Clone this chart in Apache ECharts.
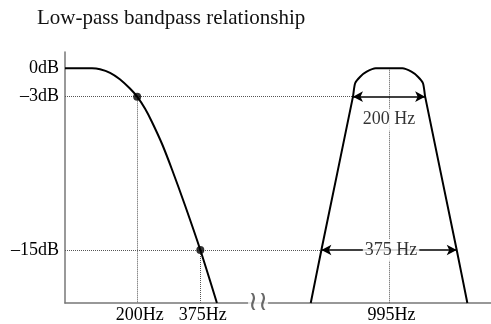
<!DOCTYPE html>
<html><head><meta charset="utf-8">
<script src="https://cdn.jsdelivr.net/npm/echarts@6/dist/echarts.min.js"></script>
<style>html,body{margin:0;padding:0;background:#fff}#c{width:491px;height:324px}</style>
</head><body><div id="c"></div>
<script>
const titleText = 'Low-pass bandpass relationship';
// low-pass response (frequency in Hz, level in schematic units)
const lowFreq  = [0, 75, 97, 125, 152, 180, 200, 222, 241, 269, 296, 332, 375, 421];
const lowLevel = [0, 0, -0.1, -0.48, -1.16, -2.14, -3, -4.28, -5.67, -8.0, -10.64, -14.42, -19.2, -24.8];
// bandpass response around 995 Hz
const bandFreq  = [778, 807.5, 895, 901, 915, 933, 958, 1032, 1057, 1075, 1089, 1095, 1182.5, 1212];
const bandLevel = [-24.8, -19.2, -3, -1.58, -0.89, -0.36, 0, 0, -0.36, -0.89, -1.58, -3, -19.2, -24.8];
const levelTicks  = [0, -3, -19.2];
const levelLabels = ['0dB', '–3dB', '–15dB'];
const freqTicks  = [200, 375, 995];
const freqLabels = ['200Hz', '375Hz', '995Hz'];
const markerFreq  = [200, 375];
const markerLevel = [-3, -19.2];
const centerFreq = 995;
const bandwidths = [200, 375];
const bandwidthLabels = ['200 Hz', '375 Hz'];
const axisBreak = [535, 632];
const freqMax = 1277.5;
const levelMin = -24.8, levelMax = 1.72;

const FONT = 'Liberation Serif';
const zip = (a, b) => a.map((v, i) => [v, b[i]]);
const dotted = { color: '#555', width: 1, type: [1, 1] };

const guideLines = [];
markerLevel.forEach((lv, i) => {
  guideLines.push([{ coord: [0, lv] }, { coord: [centerFreq - bandwidths[i] / 2, lv] }]);
  guideLines.push([{ coord: [markerFreq[i], lv] }, { coord: [markerFreq[i], levelMin] }]);
});
guideLines.push([{ coord: [centerFreq, 0] }, { coord: [centerFreq, levelMin] }]);

const arrows = markerLevel.map((lv, i) => [
  { coord: [centerFreq - bandwidths[i] / 2, lv] },
  { coord: [centerFreq + bandwidths[i] / 2, lv] }
]);

const chart = echarts.init(document.getElementById('c'), null, { renderer: 'canvas' });
chart.setOption({
  animation: false,
  backgroundColor: '#fff',
  title: {
    text: titleText, left: 37, top: 8, padding: 0,
    textStyle: { fontFamily: FONT, fontSize: 21, fontWeight: 'normal', color: '#111' }
  },
  grid: { left: 65, right: 0, top: 52, bottom: 20.5, containLabel: false },
  xAxis: {
    type: 'value', min: 0, max: freqMax,
    breaks: [{ start: axisBreak[0], end: axisBreak[1], gap: 0 }],
    breakArea: { show: false },
    axisLine: { show: true, onZero: false, lineStyle: { color: '#777', width: 1.5 } },
    axisTick: { show: false },
    splitLine: { show: false },
    axisLabel: {
      customValues: freqTicks,
      formatter: v => freqLabels[freqTicks.indexOf(v)] || '',
      fontFamily: FONT, fontSize: 18, color: '#000', margin: 3, padding: [0, 0, 0, 5]
    }
  },
  yAxis: {
    type: 'value', min: levelMin, max: levelMax,
    axisLine: { show: true, onZero: false, lineStyle: { color: '#777', width: 1.5 } },
    axisTick: { show: false },
    splitLine: { show: false },
    axisLabel: {
      customValues: levelTicks,
      formatter: v => levelLabels[levelTicks.indexOf(v)] || '',
      fontFamily: FONT, fontSize: 18, color: '#000', margin: 6
    }
  },
  series: [
    {
      type: 'line', data: zip(lowFreq, lowLevel), smooth: 0.3, symbol: 'none',
      lineStyle: { color: '#000', width: 2 }, z: 3,
      markLine: { silent: true, symbol: 'none', label: { show: false }, lineStyle: dotted, data: guideLines, z: 1 }
    },
    {
      type: 'line', data: zip(bandFreq, bandLevel), smooth: 0.25, symbol: 'none',
      lineStyle: { color: '#000', width: 2 }, z: 3,
      markLine: {
        silent: true, symbol: ['arrow', 'arrow'], symbolSize: [8, 10],
        label: { show: false }, lineStyle: { color: '#000', width: 1.5, type: 'solid' }, data: arrows, z: 2
      }
    },
    {
      type: 'scatter', data: zip(markerFreq, markerLevel), symbol: 'circle', symbolSize: 8,
      itemStyle: { color: '#000' }, z: 5
    },
    {
      type: 'scatter', symbolSize: 0, z: 6,
      data: markerLevel.map((lv, i) => ({
        value: [centerFreq, lv],
        label: {
          show: true, position: 'inside', formatter: bandwidthLabels[i],
          offset: i === 0 ? [0, 23] : [2, 0],
          fontFamily: FONT, fontSize: 18, color: '#000',
          backgroundColor: '#fff', padding: [2, 2]
        }
      }))
    },
    {
      type: 'scatter', symbolSize: 0, z: 6,
      data: [{
        value: [axisBreak[0], levelMin],
        label: {
          show: true, position: 'inside', formatter: '≀≀',
          fontFamily: 'DejaVu Serif', fontSize: 27, color: '#444',
          backgroundColor: '#fff', padding: [0, 0]
        }
      }]
    }
  ]
});
</script></body></html>
